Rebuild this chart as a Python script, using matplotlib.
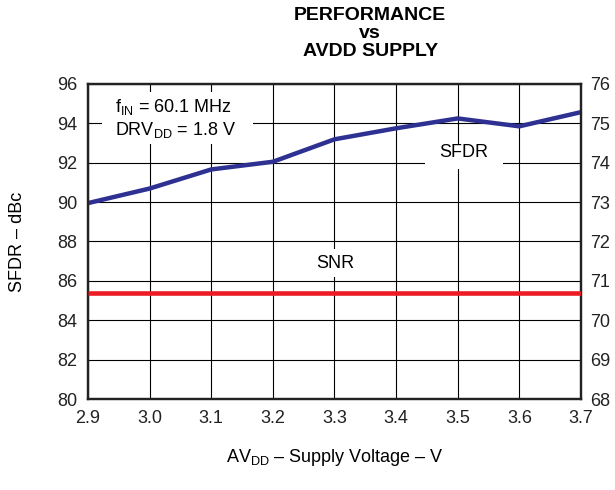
import matplotlib
matplotlib.use("Agg")
import matplotlib.pyplot as plt
from matplotlib.patches import Rectangle

plt.rcParams['font.family'] = ['Liberation Sans', 'DejaVu Sans']
plt.rcParams['mathtext.fontset'] = 'custom'
plt.rcParams['mathtext.rm'] = 'Liberation Sans'
plt.rcParams['mathtext.it'] = 'Liberation Sans'
plt.rcParams['mathtext.default'] = 'rm'

supply_v = [2.9, 3.0, 3.1, 3.2, 3.3, 3.4, 3.5, 3.6, 3.7]
sfdr = [89.95, 90.69, 91.66, 92.05, 93.19, 93.75, 94.25, 93.85, 94.57]
snr = [70.7, 70.7, 70.7, 70.7, 70.7, 70.7, 70.7, 70.7, 70.7]
x_ticks = [2.9, 3.0, 3.1, 3.2, 3.3, 3.4, 3.5, 3.6, 3.7]
left_ticks = [80, 82, 84, 86, 88, 90, 92, 94, 96]
right_ticks = [68, 69, 70, 71, 72, 73, 74, 75, 76]

FS = 13

fig = plt.figure(figsize=(6.15, 4.9), dpi=100)
ax = fig.add_axes([0.1431, 0.1857, 0.8016, 0.6429])
ax2 = ax.twinx()

ax.set_xlim(2.9, 3.7)
ax.set_ylim(80, 96)
ax2.set_ylim(68, 76)
ax.set_xticks(x_ticks)
ax.set_xticklabels([f"{v:.1f}" for v in x_ticks])
ax.set_yticks(left_ticks)
ax2.set_yticks(right_ticks)
ax.grid(True, color='black', linewidth=0.8)
ax.set_axisbelow(True)

ax.tick_params(axis='y', length=0, labelsize=FS, colors='#222222', pad=8)
ax.tick_params(axis='x', length=0, labelsize=FS, colors='#222222', pad=8)
ax2.tick_params(length=0, labelsize=FS, colors='#222222', pad=6.5)

for a in (ax, ax2):
    for s in a.spines.values():
        s.set_linewidth(1.6)
        s.set_color('#222222')

# white label backgrounds that break the grid
for (x0, x1, y0, y1) in [(2.923, 3.168, 92.95, 95.61),
                         (3.447, 3.574, 91.70, 92.95),
                         (3.25, 3.352, 86.18, 87.62)]:
    ax.add_patch(Rectangle((x0, y0), x1 - x0, y1 - y0, facecolor='white',
                           edgecolor='none', zorder=2))

ax.plot(supply_v, sfdr, color='#2E3192', linewidth=3.2, solid_capstyle='butt', zorder=5, clip_on=False)
ax2.plot(supply_v, snr, color='#ED1C24', linewidth=3.3, solid_capstyle='butt', zorder=5)

ax.text(2.944, 94.85, 'f$_{\\mathrm{IN}}$ = 60.1 MHz', fontsize=FS, va='center', ha='left', zorder=6)
ax.text(2.944, 93.65, 'DRV$_{\\mathrm{DD}}$ = 1.8 V', fontsize=FS, va='center', ha='left', zorder=6)
ax.text(3.509, 92.5, 'SFDR', fontsize=FS, ha='center', va='center', zorder=6)
ax.text(3.301, 86.9, 'SNR', fontsize=FS, ha='center', va='center', zorder=6)

ax.set_ylabel('SFDR – dBc', fontsize=FS, labelpad=22)
ax.set_xlabel('AV$_{\\mathrm{DD}}$ – Supply Voltage – V', fontsize=FS, labelpad=14)

fig.text(0.602, 0.985, 'PERFORMANCE\nvs\nAVDD SUPPLY', ha='center', va='top',
         fontsize=14, fontweight='bold', linespacing=1.07)

fig.savefig('out.png', dpi=100)
